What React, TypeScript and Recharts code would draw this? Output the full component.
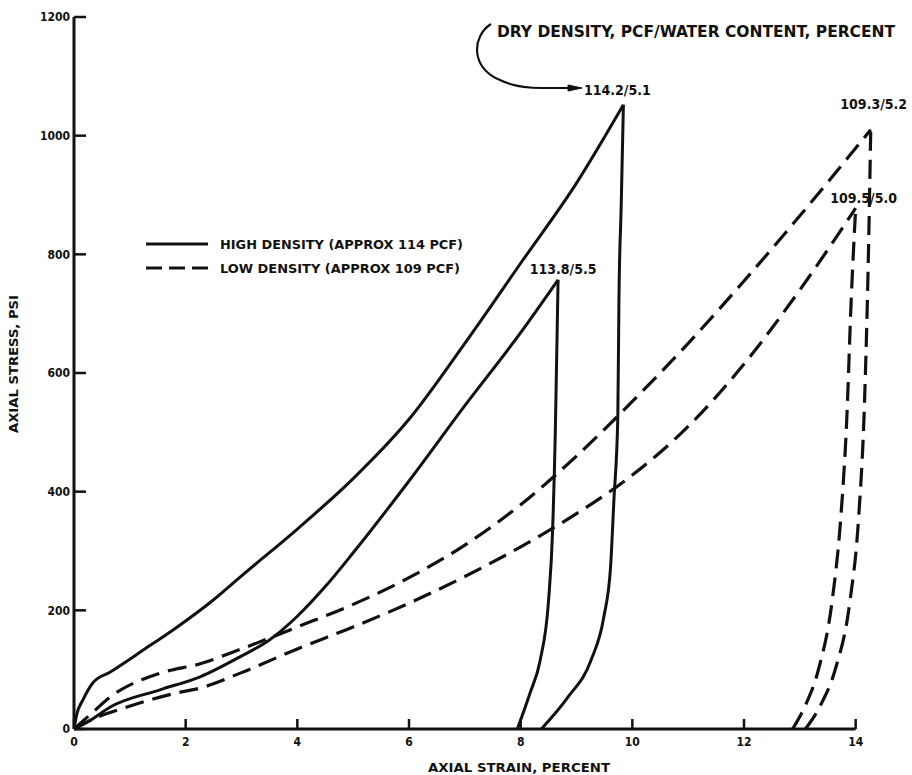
import React from "react";
import { LineChart, Line, XAxis, YAxis, ReferenceLine, ReferenceDot } from "recharts";

const strainTicks = [0, 2, 4, 6, 8, 10, 12, 14];
const stressTicks = [0, 200, 400, 600, 800, 1000, 1200];

// high density, 114.2/5.1
const highA_loadStrain = [0, 0.05, 0.16, 0.34, 0.65, 1.24, 1.85, 2.49, 3, 4, 5, 6, 7, 8, 9, 9.84];
const highA_loadStress = [0, 25, 49, 78, 96, 133, 172, 217, 258, 337, 422, 522, 650, 785, 920, 1052];
const highA_unloadStrain = [8.37, 8.85, 9.26, 9.49, 9.61, 9.67, 9.74, 9.76, 9.8, 9.84];
const highA_unloadStress = [0, 54, 116, 189, 273, 386, 526, 723, 880, 1052];

// high density, 113.8/5.5
const highB_loadStrain = [0, 0.3, 0.65, 1.54, 2.26, 2.98, 3.5, 4, 4.5, 5, 6, 7, 8, 8.67];
const highB_loadStress = [0, 15, 37, 66, 88, 122, 150, 190, 240, 297, 418, 545, 668, 757];
const highB_unloadStrain = [7.94, 8.17, 8.35, 8.5, 8.57, 8.62, 8.64, 8.67];
const highB_unloadStress = [0, 61, 116, 217, 330, 499, 600, 757];

// low density, 109.3/5.2
const lowC_loadStrain = [0, 0.3, 0.65, 1.54, 2.26, 3, 4, 5, 6, 7, 8, 9, 10, 11, 12, 13, 14.27];
const lowC_loadStress = [0, 25, 54, 94, 110, 135, 172, 210, 255, 310, 378, 460, 552, 650, 755, 865, 1010];
const lowC_unloadStrain = [13.1, 13.37, 13.63, 13.9, 14.05, 14.16, 14.23, 14.27];
const lowC_unloadStress = [0, 40, 99, 217, 352, 555, 807, 1010];

// low density, 109.5/5.0
const lowD_loadStrain = [0, 0.3, 0.95, 1.85, 2.26, 3, 4, 5, 6, 7, 8, 9, 10, 11, 12, 13, 14.0];
const lowD_loadStress = [0, 15, 37, 61, 69, 95, 135, 172, 212, 257, 307, 363, 428, 510, 615, 740, 878];
const lowD_unloadStrain = [12.87, 13.1, 13.33, 13.58, 13.73, 13.84, 13.92, 14.0];
const lowD_unloadStress = [0, 40, 99, 217, 352, 521, 723, 878];

const peakLabels = ["114.2/5.1", "113.8/5.5", "109.3/5.2", "109.5/5.0"];

const toPoints = (xs: number[], ys: number[]) => xs.map((x, i) => ({ strain: x, stress: ys[i] }));

const FONT = "'DejaVu Sans Condensed', 'Liberation Sans Narrow', 'DejaVu Sans', sans-serif";
const INK = "#111";
const DASH = "19 9";

const PeakLabel = (props: any) => {
  const { viewBox, value, dx = 0, dy = 0 } = props;
  if (!viewBox) return null;
  return (
    <text
      x={viewBox.x + dx}
      y={viewBox.y + dy}
      textAnchor="middle"
      dominantBaseline="central"
      fontFamily={FONT}
      fontWeight="bold"
      fontSize={14}
      fill={INK}
    >
      {value}
    </text>
  );
};

export default function App() {
  const series = [
    { key: "a-load", data: toPoints(highA_loadStrain, highA_loadStress), dashed: false },
    { key: "a-unload", data: toPoints(highA_unloadStrain, highA_unloadStress), dashed: false },
    { key: "b-load", data: toPoints(highB_loadStrain, highB_loadStress), dashed: false },
    { key: "b-unload", data: toPoints(highB_unloadStrain, highB_unloadStress), dashed: false },
    { key: "c-load", data: toPoints(lowC_loadStrain, lowC_loadStress), dashed: true },
    { key: "c-unload", data: toPoints(lowC_unloadStrain, lowC_unloadStress), dashed: true },
    { key: "d-load", data: toPoints(lowD_loadStrain, lowD_loadStress), dashed: true },
    { key: "d-unload", data: toPoints(lowD_unloadStrain, lowD_unloadStress), dashed: true },
  ];

  const tickStyle = { fontFamily: FONT, fontWeight: "bold", fontSize: 12, fill: INK };

  return (
    <div style={{ position: "absolute", left: 0, top: 0, width: 912, height: 775, background: "#fff" }}>
      <LineChart width={912} height={775} margin={{ top: 17, right: 34, bottom: 0, left: 0 }}>
        <XAxis
          type="number"
          dataKey="strain"
          domain={[0, 14.4]}
          ticks={strainTicks}
          allowDataOverflow
          axisLine={false}
          tickSize={-10}
          tickMargin={18}
          tickLine={{ stroke: INK, strokeWidth: 2.5 }}
          tick={tickStyle}
          height={46}
        />
        <YAxis
          type="number"
          domain={[0, 1200]}
          ticks={stressTicks}
          axisLine={{ stroke: INK, strokeWidth: 3 }}
          tickSize={-12}
          tickMargin={16}
          tickLine={{ stroke: INK, strokeWidth: 2.5 }}
          tick={tickStyle}
          width={74}
        />
        <ReferenceLine segment={[{ x: 0, y: 0 }, { x: 14, y: 0 }]} stroke={INK} strokeWidth={3} />

        {series.map((s) => (
          <Line
            key={s.key}
            data={s.data}
            dataKey="stress"
            type="monotone"
            stroke={INK}
            strokeWidth={s.dashed ? 3.2 : 3}
            strokeDasharray={s.dashed ? DASH : undefined}
            dot={false}
            activeDot={false}
            isAnimationActive={false}
          />
        ))}

        <ReferenceDot x={9.84} y={1052} r={0} label={<PeakLabel value={peakLabels[0]} dx={-6} dy={-15} />} />
        <ReferenceDot x={8.67} y={757} r={0} label={<PeakLabel value={peakLabels[1]} dx={5} dy={-11} />} />
        <ReferenceDot x={14.27} y={1010} r={0} label={<PeakLabel value={peakLabels[2]} dx={3} dy={-26} />} />
        <ReferenceDot x={14.0} y={878} r={0} label={<PeakLabel value={peakLabels[3]} dx={8} dy={-10} />} />

        {/* legend */}
        <line x1={146} y1={244} x2={208} y2={244} stroke={INK} strokeWidth={3} />
        <line x1={146} y1={268} x2={208} y2={268} stroke={INK} strokeWidth={3} strokeDasharray="16 7" />
        <text x={220} y={249} fontFamily={FONT} fontWeight="bold" fontSize={13} textLength={243} lengthAdjust="spacingAndGlyphs" fill={INK}>
          HIGH DENSITY (APPROX 114 PCF)
        </text>
        <text x={220} y={273} fontFamily={FONT} fontWeight="bold" fontSize={13} textLength={240} lengthAdjust="spacingAndGlyphs" fill={INK}>
          LOW DENSITY (APPROX 109 PCF)
        </text>

        {/* note + arrow */}
        <text x={497} y={37} fontFamily={FONT} fontWeight="bold" fontSize={16} textLength={398} lengthAdjust="spacingAndGlyphs" fill={INK}>
          DRY DENSITY, PCF/WATER CONTENT, PERCENT
        </text>
        <path d="M491,24 C472,36 470,68 500,80 C512,86 526,88 542,88 L572,88" fill="none" stroke={INK} strokeWidth={2.2} />
        <path d="M568,85 L582,88 L568,91 Z" fill={INK} stroke={INK} strokeWidth={1} />

        {/* axis titles */}
        <text x={519} y={772} textAnchor="middle" fontFamily={FONT} fontWeight="bold" fontSize={12} textLength={182} lengthAdjust="spacingAndGlyphs" fill={INK}>
          AXIAL STRAIN, PERCENT
        </text>
        <text
          x={18}
          y={364}
          textAnchor="middle"
          transform="rotate(-90 18 364)"
          fontFamily={FONT}
          fontWeight="bold"
          fontSize={12}
          textLength={138}
          lengthAdjust="spacingAndGlyphs"
          fill={INK}
        >
          AXIAL STRESS, PSI
        </text>
      </LineChart>
    </div>
  );
}
